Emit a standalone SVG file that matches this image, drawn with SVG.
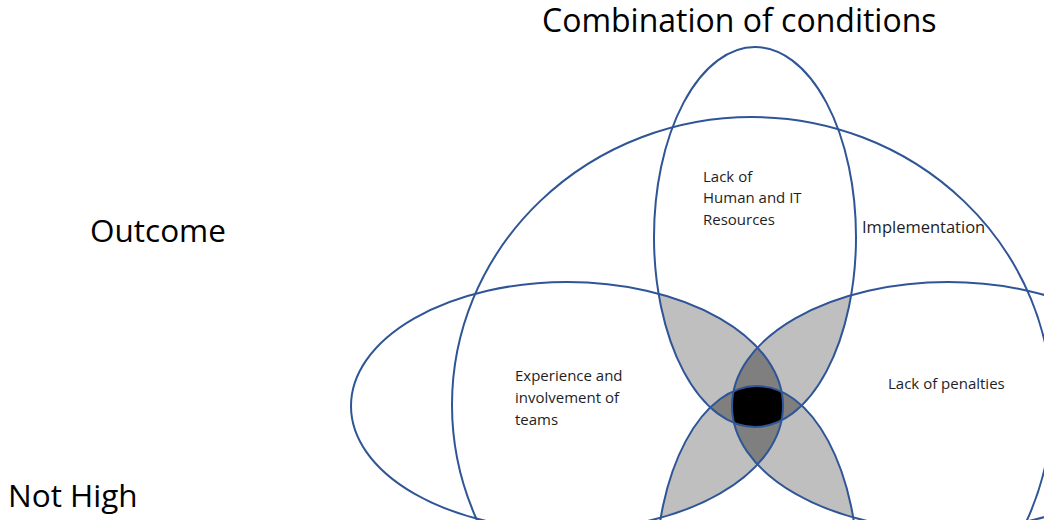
<svg xmlns="http://www.w3.org/2000/svg" width="1044" height="520" viewBox="0 0 1044 520">
<defs>
<style>
.set{fill:none;stroke:#2f5597;stroke-width:2}
.txt{font-family:"Open Sans","Liberation Sans",sans-serif;fill:#000}
.big{font-size:31.5px}
.ttl{font-size:32px}
.sm{font-size:15px;fill:#1e1e1e}
.imp{font-size:16.5px}
.f2{fill:#bfbfbf}
.f3{fill:#7f7f7f}
.f4{fill:#000}
</style>
<clipPath id="cV"><ellipse cx="755" cy="237" rx="101" ry="190"/></clipPath>
<clipPath id="cO"><ellipse cx="757" cy="575" rx="101" ry="189"/></clipPath>
<clipPath id="cE"><ellipse cx="567" cy="406" rx="216" ry="124"/></clipPath>
<clipPath id="cP"><ellipse cx="948" cy="406" rx="216" ry="124"/></clipPath>
</defs>
<rect width="1044" height="520" fill="#fff"/>

<g id="overlaps">
  <g clip-path="url(#cV)"><ellipse class="f2" cx="567" cy="406" rx="216" ry="124"/></g>
  <g clip-path="url(#cV)"><ellipse class="f2" cx="948" cy="406" rx="216" ry="124"/></g>
  <g clip-path="url(#cO)"><ellipse class="f2" cx="567" cy="406" rx="216" ry="124"/></g>
  <g clip-path="url(#cO)"><ellipse class="f2" cx="948" cy="406" rx="216" ry="124"/></g>
  <g clip-path="url(#cE)"><ellipse class="f2" cx="948" cy="406" rx="216" ry="124"/></g>
  <g clip-path="url(#cV)"><ellipse class="f2" cx="757" cy="575" rx="101" ry="189"/></g>
  <g clip-path="url(#cV)"><g clip-path="url(#cE)"><ellipse class="f3" cx="948" cy="406" rx="216" ry="124"/></g></g>
  <g clip-path="url(#cO)"><g clip-path="url(#cE)"><ellipse class="f3" cx="948" cy="406" rx="216" ry="124"/></g></g>
  <g clip-path="url(#cV)"><g clip-path="url(#cO)"><ellipse class="f3" cx="567" cy="406" rx="216" ry="124"/></g></g>
  <g clip-path="url(#cV)"><g clip-path="url(#cO)"><ellipse class="f3" cx="948" cy="406" rx="216" ry="124"/></g></g>
  <g clip-path="url(#cV)"><g clip-path="url(#cO)"><g clip-path="url(#cE)"><ellipse class="f4" cx="948" cy="406" rx="216" ry="124"/></g></g></g>
</g>

<g id="implementation">
  <ellipse class="set" cx="752" cy="405" rx="300" ry="288"/>
  <text class="txt sm imp" x="862" y="232.5">Implementation</text>
</g>
<g id="lack-resources">
  <ellipse class="set" cx="755" cy="237" rx="101" ry="190"/>
  <text class="txt sm" x="703" y="181.5">Lack of</text>
  <text class="txt sm" x="703" y="203">Human and IT</text>
  <text class="txt sm" x="703" y="225">Resources</text>
</g>
<g id="experience">
  <ellipse class="set" cx="567" cy="406" rx="216" ry="124"/>
  <text class="txt sm" x="515" y="381">Experience and</text>
  <text class="txt sm" x="515" y="403">involvement of</text>
  <text class="txt sm" x="515" y="425">teams</text>
</g>
<g id="lack-penalties">
  <ellipse class="set" cx="948" cy="406" rx="216" ry="124"/>
  <text class="txt sm" x="888" y="388.5">Lack of penalties</text>
</g>
<g id="outcome-set">
  <ellipse class="set" cx="757" cy="575" rx="101" ry="189"/>
</g>

<g id="title">
  <text class="txt ttl" x="542" y="32">Combination of conditions</text>
</g>
<g id="outcome-label">
  <text class="txt big" x="90" y="241.5">Outcome</text>
</g>
<g id="not-high">
  <text class="txt big" x="8" y="506.5">Not High</text>
</g>
<g id="connectors"/>
</svg>
